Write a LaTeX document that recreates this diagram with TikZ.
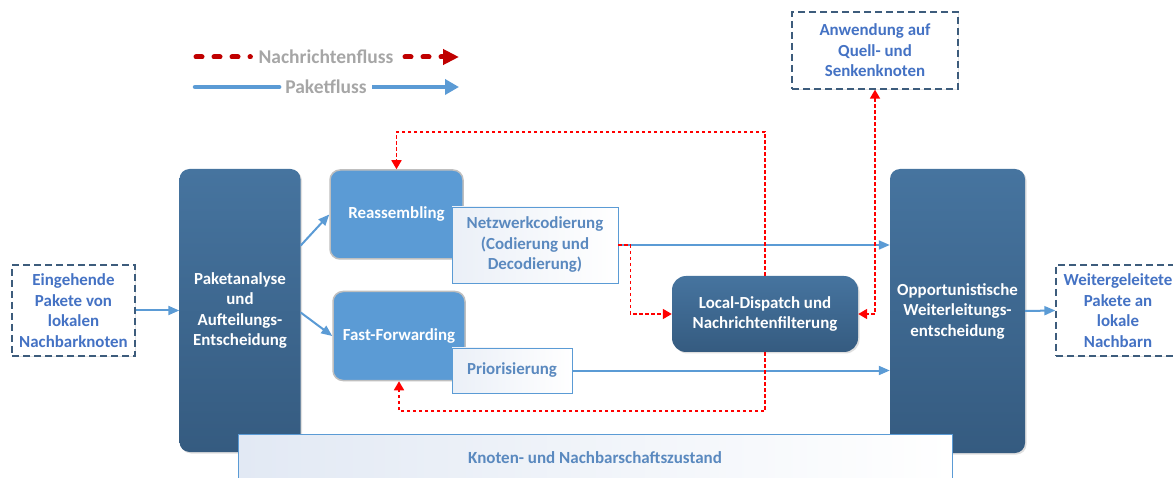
\documentclass[tikz,border=0pt]{standalone}
\usepackage{fontspec}
\setmainfont{Carlito}
\usetikzlibrary{arrows.meta,shadows}
\definecolor{darktop}{HTML}{46749F}
\definecolor{darkbot}{HTML}{355B80}
\definecolor{midblue}{HTML}{5B9BD5}
\definecolor{paleblue}{HTML}{E2E9F4}
\definecolor{txtblue}{HTML}{4472C4}
\definecolor{softblue}{HTML}{5A89BF}
\definecolor{dashedge}{HTML}{3D5C7C}
\definecolor{msgred}{HTML}{FF0000}
\definecolor{legred}{HTML}{C00000}
\definecolor{leggray}{HTML}{A6A6A6}
\begin{document}
\begin{tikzpicture}[x=1pt,y=-1pt,
  msgtip/.tip={Triangle[length=9pt,width=10pt]},
  lbl/.style={font=\fontsize{16.9}{20.5}\selectfont\bfseries, align=center},
  legtxt/.style={font=\fontsize{19.5}{22}\selectfont\bfseries, text=leggray, inner sep=0pt},
  darkbox/.style={lbl, text=white, rounded corners=10pt, top color=darktop, bottom color=darkbot,
    draw=none, drop shadow={shadow xshift=1.5pt, shadow yshift=-1.5pt, opacity=0.25}},
  midbox/.style={lbl, text=white, rounded corners=10pt, fill=midblue, draw=black!25, line width=1.5pt},
  subbox/.style={lbl, text=softblue, draw=midblue, line width=0.9pt, left color=paleblue!70, right color=white},
  ioBox/.style={lbl, text=txtblue, draw=dashedge, line width=1.3pt, dash pattern=on 7pt off 4pt, fill=white,
    drop shadow={shadow xshift=1pt, shadow yshift=-1pt, opacity=0.2}},
  pkt/.style={draw=midblue, line width=2pt, -{Triangle[length=11pt,width=9pt]}},
  msg/.style={draw=msgred, line width=1.7pt, dash pattern=on 3.5pt off 2.5pt},
  legdots/.style={legred, line width=5pt, line cap=round, dash pattern=on 6pt off 12pt}
]
\useasboundingbox (0,0) rectangle (1173,478);

% legend
\node[legtxt] (lgm) at (326,57) {Nachrichtenfluss};
\node[legtxt] (lgp) at (326,87) {Paketfluss};
\coordinate (lgmA) at (196,57);
\coordinate (lgmB) at (405,57);
\coordinate (lgmC) at (459,57);
\coordinate (lgpA) at (195,87);
\coordinate (lgpB) at (372,87);
\coordinate (lgpC) at (459,87);
\draw[legdots] (lgmA) -- ([xshift=-8pt]lgm.west);
\draw[legdots, -{Triangle[length=16pt,width=15pt]}] (lgmB) -- (lgmC);
\draw[midblue, line width=4.5pt, line cap=round] (lgpA) -- ([xshift=-6pt]lgp.west);
\draw[midblue, line width=4.5pt, -{Triangle[length=14pt,width=15pt]}] (lgpB) -- (lgpC);

% main blocks
\node[darkbox, minimum width=121pt, minimum height=283pt] (pa) at (240,310.5)
  {Paketanalyse\\und\\Aufteilungs-\\Entscheidung};
\node[darkbox, minimum width=135pt, minimum height=284pt] (opp) at (957.5,311)
  {Opportunistische\\Weiterleitungs-\\entscheidung};
\node[midbox, minimum width=133pt, minimum height=89pt] (reas) at (396.5,214.5) {Reassembling};
\node[midbox, minimum width=132pt, minimum height=89pt] (ff) at (399,336) {Fast-Forwarding};
\node[subbox, minimum width=166pt, minimum height=76pt] (net) at (535,245)
  {Netzwerkcodierung\\(Codierung und\\Decodierung)};
\node[subbox, minimum width=120pt, minimum height=45pt] (prio) at (512,370.5) {Priorisierung};
\node[darkbox, rounded corners=14pt, minimum width=186pt, minimum height=76pt] (ld) at (765,314)
  {Local-Dispatch und\\Nachrichtenfilterung};

% source and sink boxes
\node[ioBox, minimum width=123pt, minimum height=91pt] (inb) at (73.5,310.5)
  {Eingehende\\Pakete von\\lokalen\\Nachbarknoten};
\node[ioBox, minimum width=166pt, minimum height=77pt] (anw) at (875,50.5)
  {Anwendung auf\\Quell- und\\Senkenknoten};
\node[ioBox, minimum width=124pt, minimum height=91pt] (outb) at (1118,310.5)
  {Weitergeleitete\\Pakete an\\lokale\\Nachbarn};

% packet flow
\draw[pkt] (inb.east) -- (pa.west);
\draw[pkt] ([yshift=65pt]pa.east) -- (reas.west);
\draw[pkt] ([yshift=-2pt]pa.east) -- (ff.west);
\draw[pkt] (net.east) -- (opp.west |- net.east);
\draw[pkt] (prio.east) -- (opp.west |- prio.east);
\draw[pkt] (opp.east) -- (outb.west);

% message flow
\draw[msg, -msgtip] (net.east) -- ++(12,0) |- (ld.west);
\draw[msg, -msgtip] (ld.north) -- ++(0,-144) -| (reas.north);
\draw[msg, -msgtip] (ld.south) -- ++(0,59) -| (ff.south);
\draw[msg, msgtip-msgtip] (anw.south) |- (ld.east);

% shared state bar
\node[draw=midblue, line width=1pt, left color=paleblue, right color=white,
  minimum width=714pt, minimum height=60pt, anchor=north west] (state) at (238,434) {};
\node[lbl, text=softblue, font=\fontsize{17}{18}\selectfont\bfseries] (statelbl) at (595,458)
  {Knoten- und Nachbarschaftszustand};
\end{tikzpicture}
\end{document}
